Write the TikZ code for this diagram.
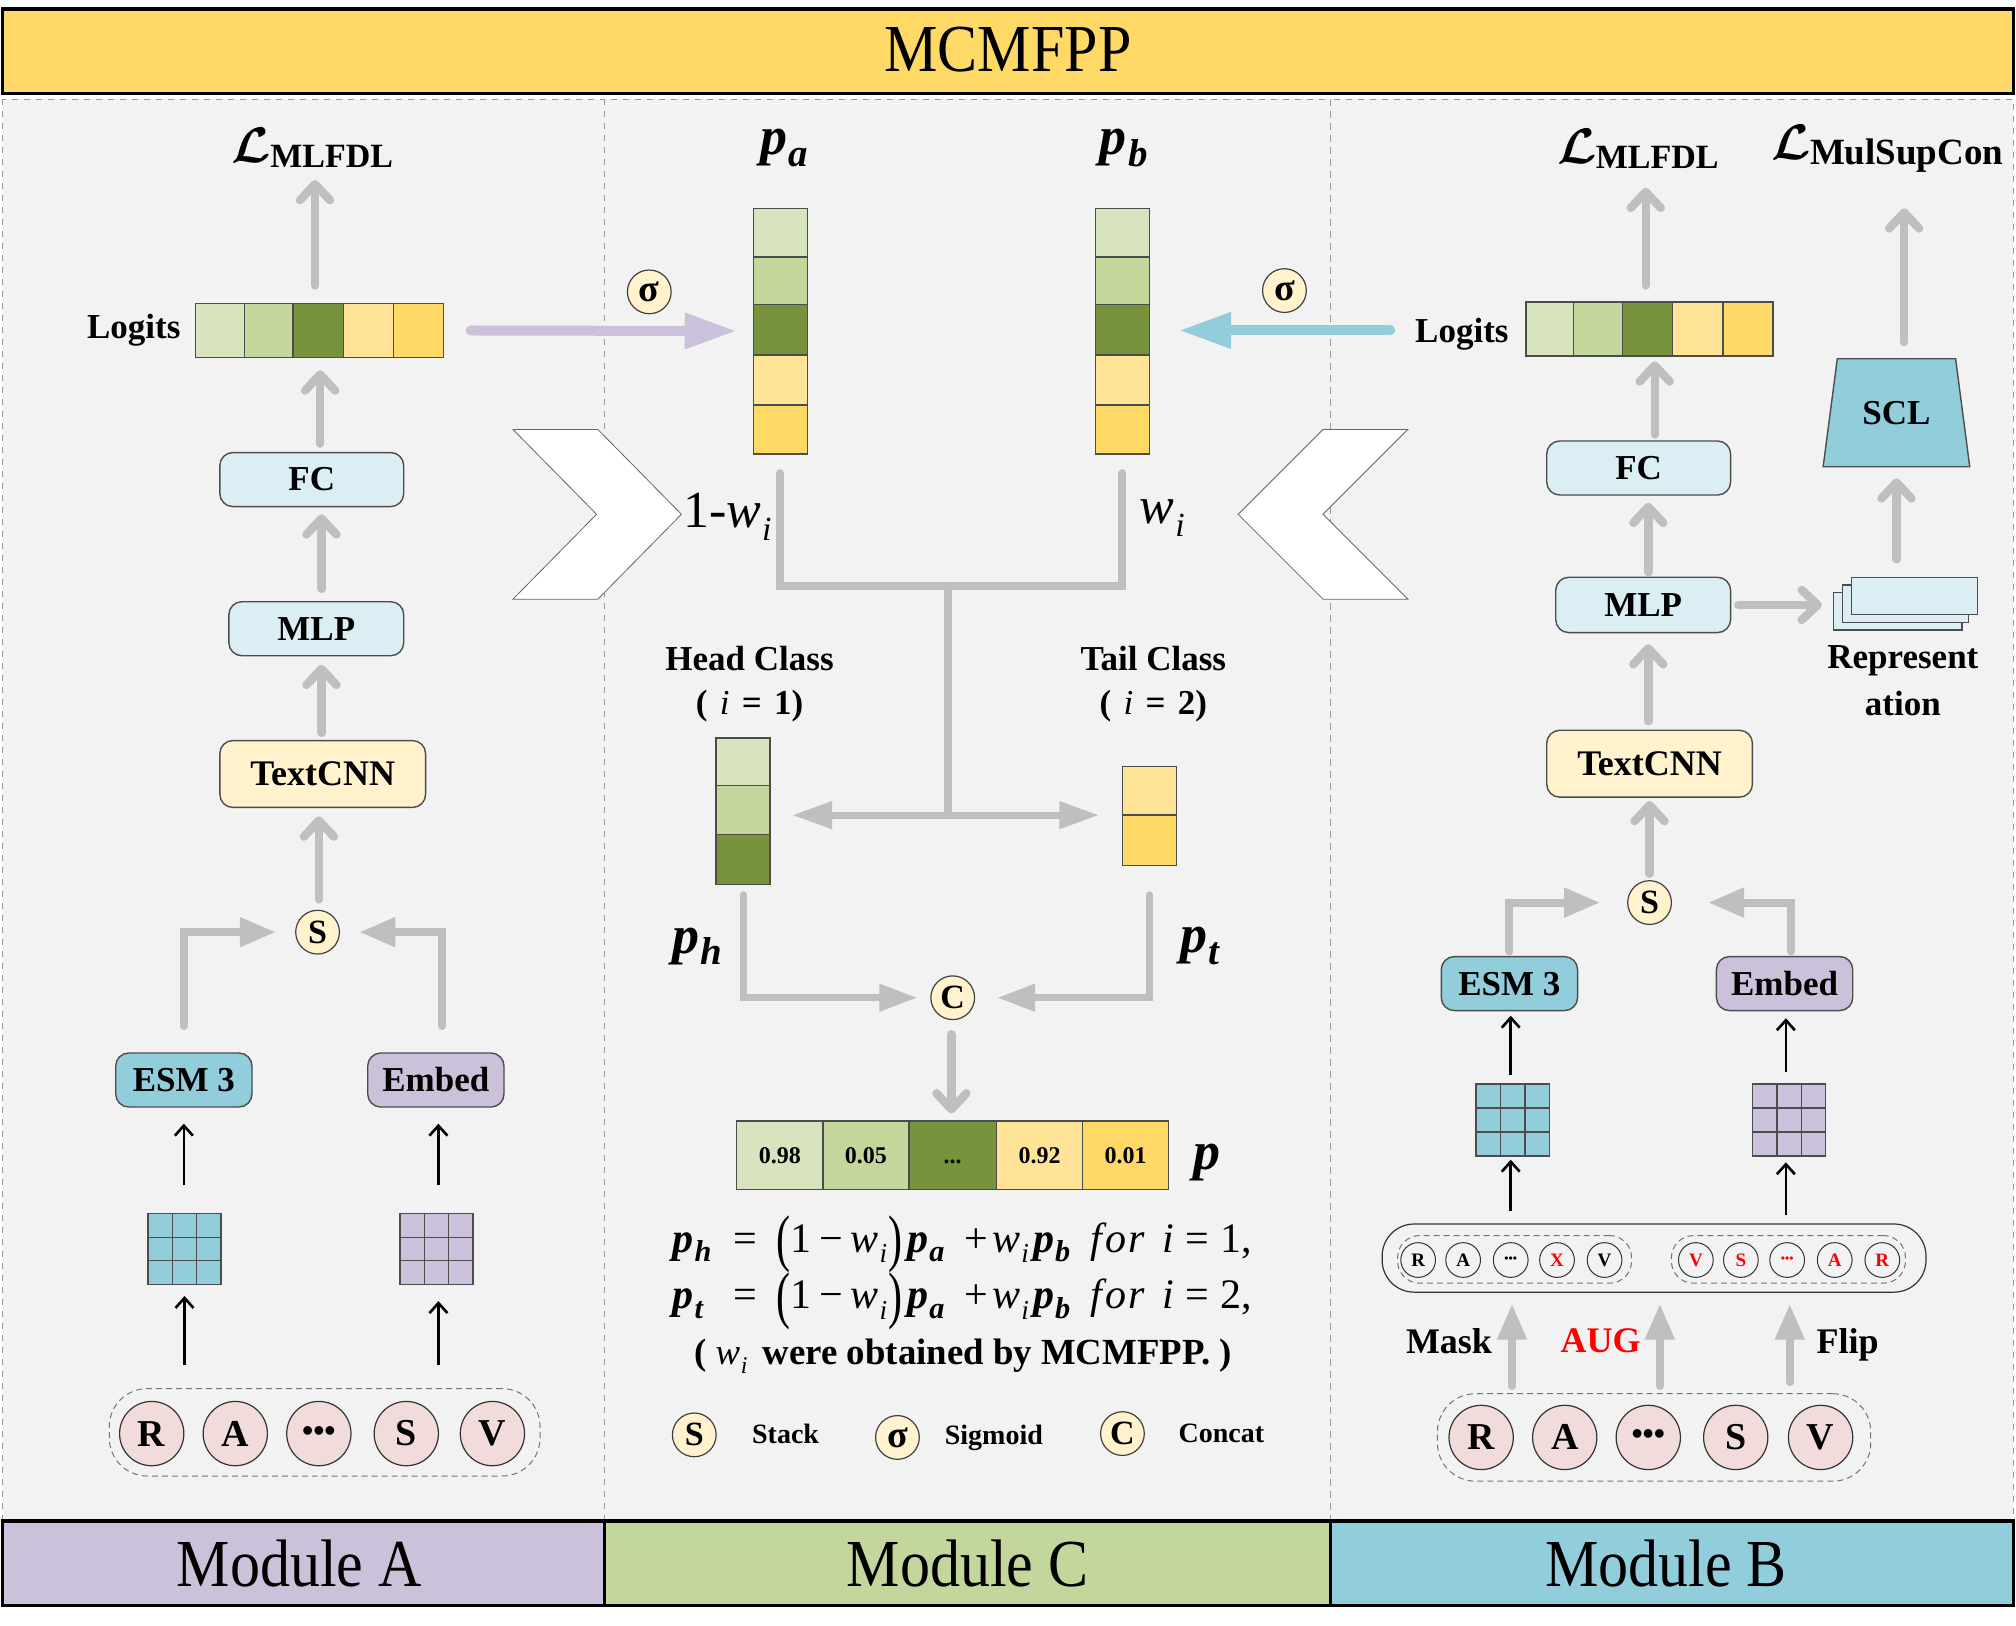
\documentclass[tikz,border=0pt]{standalone}
\usepackage{graphicx}
\usepackage{fontspec}
\setmainfont{Liberation Serif}
\usetikzlibrary{arrows.meta}
\def\ux{0.6429pt}
\def\dotstxt{{.}{.}{.}\vphantom{0}}
\newcommand\fs[1]{\fontsize{#1}{#1}\selectfont}
\def\bigdots{{\fs{16}•••}}
\def\smalldots{{\fs{6}•••}}
\newcommand\bp[1]{{\bfseries\itshape p\kern.02em\raisebox{-.22em}{\scalebox{.72}{#1}}}}
\newcommand\wi{{\itshape w\kern.02em\raisebox{-.25em}{\scalebox{.65}{i}}}}
\newcommand\bigp[1]{\raisebox{-.17em}{\scalebox{1}[1.5]{#1}}}
\newcommand\lossL[3]{{\raisebox{.25em}{\scalebox{#1}{\boldmath$\mathcal{L}$}}}\kern-.05em{\bfseries\fs{#3}#2}}
\newcommand\tall[1]{\scalebox{1}[1.12]{#1}}
\newcommand\vconn[6]{\coordinate (tmpc) at ([xshift=#4*\ux]#2);\draw[#1,gap={#5}{#6}] (tmpc) -- (tmpc |- #3);}
\definecolor{cA}{HTML}{D7E4BD}
\definecolor{cB}{HTML}{C3D69B}
\definecolor{cC}{HTML}{77933C}
\definecolor{cD}{HTML}{FFE497}
\definecolor{cE}{HTML}{FFD966}
\definecolor{pur}{HTML}{CCC1DA}
\definecolor{teal}{HTML}{92CDDC}
\definecolor{lblue}{HTML}{DBEEF4}
\definecolor{lyel}{HTML}{FFF2CC}
\definecolor{panel}{HTML}{F2F2F2}
\definecolor{gline}{HTML}{BFBFBF}
\definecolor{pink}{HTML}{F2DCDB}
\tikzset{
 gap/.style 2 args={shorten <=#1*\ux,shorten >=#2*\ux},
 box/.style 2 args={minimum width=#1*\ux,minimum height=#2*\ux,inner sep=0pt,outer sep=0pt},
 bar/.style={draw=black,line width=1.6pt,font=\fs{30}},
 panelbox/.style={fill=panel,draw=black!40,dashed,line width=.5pt},
 rbox/.style={draw=black!70,line width=.7pt,rounded corners=6.5pt,font=\bfseries\fs{17.5}},
 cell/.style={draw=black!70,line width=.7pt},
 lab/.style={font=\bfseries\fs{17.5}},
 opc/.style={circle,draw=black!75,line width=.6pt,fill=lyel,inner sep=0pt,minimum size=34*\ux,font=\bfseries\fs{17}},
 bigc/.style={circle,draw=black!80,line width=.6pt,fill=pink,inner sep=0pt,minimum size=50*\ux,font=\bfseries\fs{19}},
 smallc/.style={circle,draw=black!80,line width=.5pt,inner sep=0pt,minimum size=27*\ux,font=\bfseries\fs{9.5}},
 seqbox/.style={draw=black!55,densely dashed,line width=.5pt,rounded corners=19pt},
 barb/.style={draw=gline,line width=4.2pt,line cap=round,-{Straight Barb[length=8pt,width=15pt,round]}},
 tri/.style={draw=gline,line width=4pt,line cap=round,line join=miter,-{Triangle[length=18pt,width=14pt]}},
 thin/.style={draw=black,line width=1.3pt,-{Straight Barb[length=5pt,width=9pt]}},
 treeline/.style={draw=gline,line width=4pt,line cap=round},
 chev/.style={fill=white,draw=black!60,line width=.4pt},
}
\begin{document}
\begin{tikzpicture}[x=\ux,y=-\ux]
\useasboundingbox (0,0) rectangle (1568,1264);
% panels
\draw[panelbox] (2,77) rectangle (470,1183);
\draw[panelbox] (470,77) rectangle (1035,1183);
\draw[panelbox] (1035,77) rectangle (1566,1183);
% title and module bars
\node[bar,fill=cE,box={1564}{66}] (title) at (784,40) {\raisebox{.06em}{\tall{MCMFPP}}};
\node[bar,fill=pur,box={468}{66}] (modA) at (236,1216) {\kern-4pt\tall{Module A}};
\node[bar,fill=cB,box={565}{66}] (modC) at (752.5,1216) {\tall{Module C}};
\node[bar,fill=teal,box={531}{66}] (modB) at (1300.5,1216) {\kern-6pt\tall{Module B}};
% chevrons
\draw[chev] (399,334) -- (465,334) -- (530,400) -- (465,466) -- (399,466) -- (464,400) -- cycle;
\draw[chev] (1095,334) -- (1029,334) -- (963,400) -- (1029,466) -- (1095,466) -- (1029,400) -- cycle;

% ---------- Module A
\node[box={130}{40}] (lossA) at (243,115) {\lossL{2.5}{MLFDL}{17}};
\node[lab] (logA) at (104,257) {Logits};
\foreach \a/\b/\c in {152/190/cA,190/228/cB,228/267/cC,267/306/cD,306/345/cE} \draw[cell,fill=\c] (\a,236) rectangle (\b,278);
\node[box={193}{42}] (barA) at (248.5,257) {};
\node[rbox,fill=lblue,box={143}{42}] (fcA) at (242.5,373) {FC};
\node[rbox,fill=lblue,box={136}{42}] (mlpA) at (246,489) {MLP};
\node[rbox,fill=lyel,box={160}{52},font=\bfseries\fs{18}] (tcA) at (251,602) {TextCNN};
\node[opc] (sA) at (247,725) {S};
\node[rbox,fill=teal,box={106}{42}] (esmA) at (143,840) {ESM 3};
\node[rbox,fill=pur,box={106}{42}] (embA) at (339,840) {Embed};
\draw[cell,fill=teal,draw=black!70] (115,944) rectangle (172,999);
\draw[cell] (115,962.3) -- (172,962.3) (115,980.6) -- (172,980.6) (134,944) -- (134,999) (153,944) -- (153,999);
\node[box={57}{55}] (gridAa) at (143.5,971.5) {};
\draw[cell,fill=pur] (311,944) rectangle (368,999);
\draw[cell] (311,962.3) -- (368,962.3) (311,980.6) -- (368,980.6) (330,944) -- (330,999) (349,944) -- (349,999);
\node[box={57}{55}] (gridAb) at (339.5,971.5) {};
\node[seqbox,box={335}{68}] (seqA) at (252.5,1114) {};
\foreach \x/\t/\n in {118/R/a,183/A/b,248/\bigdots/c,316/S/d,383/V/e} \node[bigc] (seqA\n) at (\x,1115) {\t};
\vconn{barb}{barA.north}{lossA.south}{-3.5}{14}{5}
\vconn{barb}{fcA.north}{barA.south}{6.5}{7}{10}
\vconn{barb}{mlpA.north}{fcA.south}{4}{10}{6}
\vconn{barb}{tcA.north}{mlpA.south}{-1}{6}{7}
\vconn{barb}{sA.north}{tcA.south}{1}{8}{7}
\draw[tri,gap={21}{15}] (esmA.north) |- (sA.west);
\coordinate (embAt) at ([xshift=5*\ux]embA.north);
\draw[tri,gap={21}{15}] (embAt) |- (sA.east);
\vconn{thin}{gridAa.north}{esmA.south}{-.5}{22}{13}
\vconn{thin}{gridAb.north}{embA.south}{1.5}{22}{13}
\coordinate (seqAa) at (gridAa.south |- seqA.north);
\coordinate (seqAb) at ([xshift=1.5*\ux]gridAb.south |- seqA.north);
\draw[thin,gap={18}{9}] (seqAa) -- (gridAa.south);
\draw[thin,gap={18}{13}] (seqAb) -- (seqAb |- gridAb.south);

% ---------- Module C
\node[box={60}{40}] (pa) at (610,115) {\fs{27}\bp{a}};
\node[box={60}{40}] (pb) at (874,115) {\fs{27}\bp{b}};
\foreach \a/\b/\c in {162/200/cA,200/237/cB,237/276/cC,276/315/cD,315/353/cE} {
 \draw[cell,fill=\c] (586,\a) rectangle (628,\b);
 \draw[cell,fill=\c] (852,\a) rectangle (894,\b);}
\node[box={42}{191}] (stackA) at (607,257.5) {};
\node[box={42}{191}] (stackB) at (873,257.5) {};
\node[opc,font=\bfseries\fs{19}] (sigA) at (505,227) {σ};
\node[opc,font=\bfseries\fs{19}] (sigB) at (999,226) {σ};
\node[anchor=west,inner sep=0pt,font=\fs{26}] (wl) at (531,402) {1-\wi};
\node[anchor=west,inner sep=0pt,font=\fs{26}] (wr) at (886,403) {\wi};
\node[lab] (hc) at (583,512) {Head Class};
\node[lab] (hi) at (583,549) {(\kern.35em{\itshape\mdseries i}\kern.35em=\kern.35em 1)};
\node[lab] (tc) at (897,512) {Tail Class};
\node[lab] (ti) at (897,549) {(\kern.35em{\itshape\mdseries i}\kern.35em=\kern.35em 2)};
\foreach \a/\b/\c in {574/611/cA,611/649/cB,649/688/cC} \draw[cell,fill=\c] (557,\a) rectangle (599,\b);
\foreach \a/\b/\c in {596/634/cD,634/673/cE} \draw[cell,fill=\c] (873,\a) rectangle (915,\b);
\node[box={42}{114}] (headS) at (578,631) {};
\node[box={42}{77}] (tailS) at (894,634.5) {};
\node[box={60}{40}] (ph) at (542,736) {\fs{27}\bp{h}};
\node[box={60}{40}] (pt) at (933,736) {\fs{27}\bp{t}};
\node[opc] (cC) at (741,776) {C};
\foreach \a/\b/\c/\t/\n in {573/640/cA/0.98/a,640/707/cB/0.05/b,707/775/cC/\dotstxt/c,775/842/cD/0.92/d,842/909/cE/0.01/e}
 \node[cell,fill=\c,minimum width=(\b-\a)*\ux,minimum height=53*\ux,inner sep=0pt,outer sep=0pt,font=\bfseries\fs{12}] (val\n) at ({(\a+\b)/2},898.5) {\t};
\node[box={336}{53}] (valS) at (741,898.5) {};
\node[box={40}{40}] (pp) at (939,904) {\fs{27}\bfseries\itshape p};
% equations
\foreach \yy/\pp/\ii/\nn in {974/h/1/a,1018/t/2/b} {
 \node[anchor=base west,inner sep=0pt,font=\fs{21}] (eq\nn1) at (523,\yy) {\bp{\pp}};
 \node[anchor=base west,inner sep=0pt,font=\fs{21}] (eq\nn2) at (570,\yy) {=};
 \node[anchor=base west,inner sep=0pt,font=\fs{21}] (eq\nn3) at (604,\yy) {\bigp{(}1\kern.18em−\kern.18em\wi\kern.03em\bigp{)}\kern.12em\bp{a}};
 \node[anchor=base west,inner sep=0pt,font=\fs{21}] (eq\nn4) at (750,\yy) {+\kern.1em\wi\kern.1em\bp{b}};
 \node[anchor=base west,inner sep=0pt,font=\fs{21}] (eq\nn5) at (848,\yy) {\itshape f\kern.08em o\kern.04em r};
 \node[anchor=base west,inner sep=0pt,font=\fs{21}] (eq\nn6) at (904,\yy) {\itshape i\upshape\kern.27em=\kern.27em\ii,};
}
\node[anchor=base,inner sep=0pt,font=\bfseries\fs{18.4}] (eqc) at (749,1061) {( {\mdseries\wi} \,were obtained by MCMFPP. )};
% legend
\node[opc] (legS) at (540,1116) {S};
\node[lab,font=\bfseries\fs{14}] (legSt) at (611,1115) {Stack};
\node[opc,font=\bfseries\fs{19}] (legG) at (698,1118) {σ};
\node[lab,font=\bfseries\fs{14}] (legGt) at (773,1118) {Sigmoid};
\node[opc] (legC) at (873,1115) {C};
\node[lab,font=\bfseries\fs{14}] (legCt) at (950,1115) {Concat};
% connectors C
\coordinate (juncA) at (737,456);
\coordinate (juncB) at (737,634);
\draw[treeline,shorten <=15*\ux,shorten >=15*\ux] (stackA.south) |- (juncA) -| (stackB.south);
\draw[treeline] (juncA) -- (juncB);
\draw[draw=gline,line width=3.6pt,{Triangle[length=20pt,width=13pt]}-{Triangle[length=20pt,width=13pt]},gap={17}{18}] (juncB -| headS.east) -- (juncB -| tailS.west);
\draw[tri,line width=3.6pt,-{Triangle[length=19pt,width=13pt]},gap={8}{10}] (headS.south) |- (cC.west);
\draw[tri,line width=3.6pt,-{Triangle[length=19pt,width=13pt]},gap={23}{17}] (tailS.south) |- (cC.east);
\vconn{barb}{cC.south}{valS.north}{-1}{11}{6}
\draw[draw=pur,line width=5pt,line cap=round,-{Triangle[length=26pt,width=17pt]},gap={21}{13}] (barA.east) -- (stackA.west);
\node[lab] (logB) at (1137,260) {Logits};
\draw[draw=teal,line width=5pt,line cap=round,-{Triangle[length=26pt,width=17pt]},gap={14}{23}] (logB.west |- barA.east) -- (stackB.east |- barA.east);

% ---------- Module B
\node[box={130}{40}] (lossB) at (1274,116) {\lossL{2.5}{MLFDL}{17}};
\node[box={180}{40}] (lossC) at (1468,116) {\lossL{2.5}{MulSupCon}{18.5}};
\foreach \a/\b/\c in {1187/1224/cA,1224/1262/cB,1262/1301/cC,1301/1340/cD,1340/1379/cE} \draw[cell,fill=\c] (\a,235) rectangle (\b,277);
\node[box={192}{42}] (barB) at (1283,256) {};
\node[rbox,fill=lblue,box={143}{42}] (fcB) at (1274.5,364) {FC};
\node[rbox,fill=lblue,box={136}{43}] (mlpB) at (1278,470.5) {MLP};
\node[rbox,fill=lyel,box={160}{52},font=\bfseries\fs{18}] (tcB) at (1283,594) {TextCNN};
\node[opc] (sB) at (1283,702) {S};
\node[rbox,fill=teal,box={106}{42}] (esmB) at (1174,765) {ESM 3};
\node[rbox,fill=pur,box={106}{42}] (embB) at (1388,765) {Embed};
\draw[cell,fill=teal] (1148,843) rectangle (1205,899);
\draw[cell] (1148,861.7) -- (1205,861.7) (1148,880.3) -- (1205,880.3) (1167,843) -- (1167,899) (1186,843) -- (1186,899);
\node[box={57}{56}] (gridBa) at (1176.5,871) {};
\draw[cell,fill=pur] (1363,843) rectangle (1420,899);
\draw[cell] (1363,861.7) -- (1420,861.7) (1363,880.3) -- (1420,880.3) (1382,843) -- (1382,899) (1401,843) -- (1401,899);
\node[box={57}{56}] (gridBb) at (1391.5,871) {};
\node[draw=black!80,line width=.6pt,rounded corners=16pt,box={423}{53}] (capB) at (1286.5,978.5) {};
\node[seqbox,rounded corners=11pt,box={182}{37}] (capBa) at (1178,979.5) {};
\node[seqbox,rounded corners=11pt,box={182}{37}] (capBb) at (1391,979.5) {};
\foreach \x/\t/\n/\c in {1103/R/a/black,1138/A/b/black,1175/\smalldots/c/black,1211/X/d/red,1248/V/e/black,1319/V/f/red,1354/S/g/red,1390/\smalldots/h/red,1427/A/i/red,1464/R/j/red}
 \node[smallc,text=\c] (cap\n) at (\x,980) {\t};
\node[lab,font=\bfseries\fs{18}] (mask) at (1127,1043) {Mask};
\node[lab,font=\bfseries\fs{18},text=red] (aug) at (1245,1043) {AUG};
\node[lab,font=\bfseries\fs{18}] (flip) at (1437,1046) {Flip};
\node[seqbox,box={337}{68}] (seqB) at (1286.5,1118) {};
\foreach \x/\t/\n in {1152/R/a,1217/A/b,1282/\bigdots/c,1350/S/d,1416/V/e} \node[bigc] (seqB\n) at (\x,1118) {\t};
% representation stack and SCL
\draw[cell,fill=lblue] (1426,461) rectangle (1526,490);
\draw[cell,fill=lblue] (1433,455) rectangle (1531,484);
\draw[cell,fill=lblue] (1440,449) rectangle (1538,478);
\node[box={112}{41}] (repS) at (1482,469.5) {};
\node[lab] (rep1) at (1480,514) {Represent};
\node[lab] (rep2) at (1480,547) {ation};
\draw[cell,fill=teal] (1429,279) -- (1521,279) -- (1532,363) -- (1418,363) -- cycle;
\node[box={114}{84},font=\bfseries\fs{17.5}] (scl) at (1475,321) {SCL};
\vconn{barb}{barB.north}{lossB.south}{-3}{13}{10}
\vconn{barb}{fcB.north}{barB.south}{12.5}{5}{4}
\vconn{barb}{mlpB.north}{fcB.south}{4}{4}{6}
\vconn{barb}{tcB.north}{mlpB.south}{-1}{7}{9}
\vconn{barb}{sB.north}{tcB.south}{0}{5}{3}
\vconn{barb}{scl.north}{lossC.south}{6}{13}{26}
\vconn{barb}{repS.north}{scl.south}{-7}{14}{9}
\draw[barb,gap={6}{9}] (mlpB.east) -- (mlpB.east -| repS.west);
\draw[tri,gap={4}{21}] (esmB.north) |- (sB.west);
\coordinate (embBt) at ([xshift=5*\ux]embB.north);
\draw[tri,gap={4}{28}] (embBt) |- (sB.east);
\vconn{thin}{gridBa.north}{esmB.south}{-1.5}{7}{4}
\vconn{thin}{gridBb.north}{embB.south}{-2.5}{9}{6}
\coordinate (capBl) at (1175,952);
\coordinate (capBr) at (1389,952);
\draw[thin,gap={10}{3}] (capBl |- capB.north) -- (capBl |- gridBa.south);
\draw[thin,gap={7}{5}] (capBr |- capB.north) -- (capBr |- gridBb.south);
\coordinate (upa) at ([xshift=-110.5*\ux]seqB.north);
\coordinate (upb) at ([xshift=4.5*\ux]seqB.north);
\coordinate (upc) at ([xshift=105.5*\ux]seqB.north);
\draw[tri,gap={6}{9}] (upa) -- (upa |- capB.south);
\draw[tri,gap={6}{9}] (upb) -- (upb |- capB.south);
\draw[tri,gap={9}{9}] (upc) -- (upc |- capB.south);
\end{tikzpicture}
\end{document}
